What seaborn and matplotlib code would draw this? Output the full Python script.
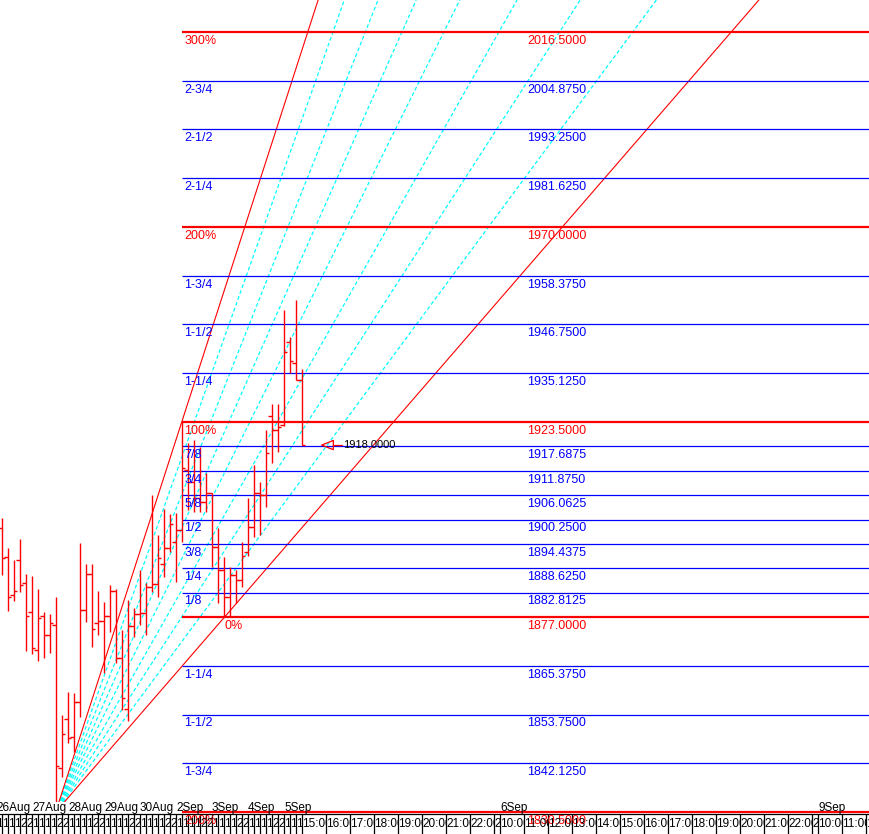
import matplotlib
matplotlib.use("Agg")
import matplotlib.pyplot as plt
import seaborn as sns
import pandas as pd
from matplotlib.transforms import Bbox, TransformedBbox

# 4 hour bars, 26Aug .. 5Sep
opens = [1898.2, 1891.4, 1882.3, 1890.6, 1885.0, 1878.1, 1869.1, 1877.2, 1872.7, 1875.1,
         1841.0, 1852.6, 1848.4, 1856.7, 1878.7, 1887.2, 1875.5, 1876.1, 1877.2, 1883.2,
         1867.2, 1855.0, 1874.9, 1877.7, 1878.0, 1884.2, 1884.9, 1889.6, 1893.5, 1894.9,
         1897.8, 1912.1, 1909.2, 1905.4, 1904.4, 1906.6, 1893.7, 1888.2, 1881.8, 1887.0,
         1885.8, 1892.5, 1898.5, 1906.6, 1906.1, 1924.9, 1921.6, 1922.8, 1942.6, 1937.6,
         1933.5]
highs = [1900.5, 1893.4, 1890.6, 1895.6, 1887.2, 1886.8, 1883.7, 1878.1, 1877.7, 1881.7,
         1853.6, 1859.1, 1858.9, 1894.6, 1889.6, 1889.6, 1883.2, 1880.7, 1884.6, 1883.7,
         1873.9, 1881.1, 1879.2, 1888.2, 1885.1, 1906.1, 1896.6, 1902.8, 1901.6, 1901.8,
         1923.5, 1918.5, 1919.2, 1917.5, 1911.3, 1906.6, 1898.2, 1891.3, 1888.9, 1888.2,
         1894.9, 1905.4, 1913.3, 1909.2, 1921.6, 1927.8, 1927.8, 1950.2, 1943.8, 1952.6,
         1936.1]
lows = [1887.0, 1878.4, 1880.9, 1883.0, 1869.0, 1868.1, 1866.6, 1867.2, 1868.5, 1830.5,
        1838.9, 1846.9, 1844.8, 1853.1, 1875.9, 1869.9, 1872.7, 1863.6, 1873.4, 1866.0,
        1854.8, 1852.2, 1872.2, 1875.1, 1872.7, 1883.0, 1881.8, 1886.5, 1892.5, 1885.4,
        1894.9, 1902.5, 1902.0, 1902.0, 1902.0, 1888.9, 1880.3, 1877.0, 1877.0, 1880.3,
        1884.2, 1891.6, 1896.1, 1896.6, 1903.2, 1913.7, 1916.4, 1922.6, 1935.2, 1933.5,
        1918.0]
closes = [1891.0, 1881.7, 1883.2, 1884.6, 1877.2, 1869.5, 1876.7, 1872.7, 1875.5, 1841.5,
          1849.1, 1848.1, 1856.7, 1878.7, 1887.2, 1874.1, 1876.1, 1877.2, 1883.2, 1867.2,
          1857.7, 1874.9, 1877.7, 1878.0, 1884.2, 1884.9, 1891.1, 1893.5, 1899.2, 1897.8,
          1912.5, 1909.2, 1905.4, 1904.4, 1906.6, 1893.7, 1888.2, 1881.8, 1887.0, 1885.8,
          1891.6, 1898.5, 1906.6, 1906.1, 1916.1, 1921.6, 1922.3, 1940.2, 1938.0, 1933.5,
          1918.0]

# gann levels
level_prices = [2016.5, 2004.875, 1993.25, 1981.625, 1970.0, 1958.375, 1946.75, 1935.125,
                1923.5, 1917.6875, 1911.875, 1906.0625, 1900.25, 1894.4375, 1888.625,
                1882.8125, 1877.0, 1865.375, 1853.75, 1842.125, 1830.5]
level_names = ["300%", "2-3/4", "2-1/2", "2-1/4", "200%", "1-3/4", "1-1/2", "1-1/4",
               "100%", "7/8", "3/4", "5/8", "1/2", "3/8", "1/4", "1/8", "0%",
               "1-1/4", "1-1/2", "1-3/4", "200%"]
level_major = [True, False, False, False, True, False, False, False,
               True, False, False, False, False, False, False, False, True,
               False, False, False, True]
level_start_bar = 30

# fan slopes (price per bar) from the swing low
fan_slopes = [4.427, 4.025, 3.604, 3.223, 2.875, 2.518, 2.215, 1.934, 1.652]

# time axis
day_names = ["26Aug", "27Aug", "28Aug", "29Aug", "30Aug", "2Sep", "3Sep", "4Sep", "5Sep"]
day_first_bar = [-1, 5, 11, 17, 23, 29, 35, 41, 47]
bar_hour_digits = ["1", "1", "1", "1", "2", "2"]
future_days = ["5Sep", "6Sep", "9Sep"]
future_hours = [[15, 16, 17, 18, 19, 20, 21, 22, 23],
                [10, 11, 12, 13, 14, 15, 16, 17, 18, 19, 20, 21, 22, 23],
                [10, 11, 12]]
last_price = 1918.0

RED = "#ff0000"
BLUE = "#0000ff"
CYAN = "#00ffff"

sns.set_theme(style="white")
plt.rcParams["font.family"] = ["Liberation Sans", "DejaVu Sans"]

W, H = 869, 834
fig = plt.figure(figsize=(W / 100, H / 100), dpi=100)
ax = fig.add_axes([0, 0, 1, 1])


# pixel <-> data helpers for the screen layout
def xpx(p):
    return (p - 1.7) / 6.0


def ypx(p):
    return 1923.5 - (p - 422) / 4.194


ax.set_xlim(xpx(0), xpx(W))
ax.set_ylim(ypx(H), ypx(0))
ax.axis("off")

bars = pd.DataFrame({"o": opens, "h": highs, "l": lows, "c": closes})
bars["x"] = range(len(bars))

# fan
x0 = bars["l"].idxmin()
p0 = bars["l"].min()
ytop = ypx(0)
rows = []
for i, s in enumerate(fan_slopes):
    rows.append({"ray": i, "x": x0, "p": p0})
    rows.append({"ray": i, "x": x0 + (ytop - p0) / s, "p": ytop})
fan = pd.DataFrame(rows)
inner = fan[(fan["ray"] > 0) & (fan["ray"] < len(fan_slopes) - 1)]
outer = fan[(fan["ray"] == 0) | (fan["ray"] == len(fan_slopes) - 1)]
sns.lineplot(data=inner, x="x", y="p", units="ray", estimator=None, sort=False,
             color=CYAN, lw=0.9, linestyle=(0, (3, 2)), legend=False, ax=ax, zorder=1)
sns.lineplot(data=outer, x="x", y="p", units="ray", estimator=None, sort=False,
             color=RED, lw=0.8, legend=False, ax=ax, zorder=1)

# levels
xmax = xpx(W)
for p, name, major in zip(level_prices, level_names, level_major):
    col = RED if major else BLUE
    ax.hlines(p, level_start_bar, xmax, colors=col, lw=1.6 if major else 0.9, zorder=2)
    lx = level_start_bar + 0.4
    if name == "0%":
        lx = x0 + (p - p0) / fan_slopes[-1]
    ax.annotate(name, (lx, p), xytext=(0, -8.5), textcoords="offset points",
                color=col, fontsize=9, va="baseline", ha="left", zorder=6)
    ax.annotate(f"{p:.4f}", (xpx(527), p), xytext=(0, -8.5), textcoords="offset points",
                color=col, fontsize=9, va="baseline", ha="left", zorder=6)

# ohlc bars
ax.vlines(bars["x"], bars["l"], bars["h"], colors=RED, lw=1.0, zorder=3)
ax.hlines(bars["o"], bars["x"] - 0.55, bars["x"], colors=RED, lw=1.0, zorder=3)
ax.hlines(bars["c"], bars["x"], bars["x"] + 0.55, colors=RED, lw=1.0, zorder=3)

# last price marker
xl = bars["x"].iloc[-1]
tip, base = xl + 3.33, xl + 5.27
dy = 4.6 / 4.194
ax.plot([base, tip, base, base], [last_price + dy, last_price, last_price - dy, last_price + dy],
        color=RED, lw=0.9, zorder=6)
ax.plot([base, xl + 6.67], [last_price, last_price], color=RED, lw=0.9, zorder=6)
ax.text(xl + 6.93, last_price, f"{last_price:.4f}", fontsize=8, color="black",
        va="center", ha="left", zorder=6)

# bottom time strip
strip_top = ypx(802)
ax.axhspan(ypx(H), strip_top, color="white", zorder=4, lw=0)
# redraw the -100% level over the strip
ax.hlines(level_prices[-1], level_start_bar, xmax, colors=RED, lw=1.6, zorder=5)
line_y = ypx(813.8)
ax.axhline(line_y, color="black", lw=0.9, zorder=5)

cells = []
for d, (name, start) in enumerate(zip(day_names, day_first_bar)):
    n = 6 if d < len(day_names) - 1 else 3
    for j in range(n):
        cells.append((start + j, 1, bar_hour_digits[j]))
    ax.text(start + 0.05, ypx(811), name, fontsize=8.5, color="black",
            va="baseline", ha="left", zorder=6)

pos = xl
for name, hours in zip(future_days, future_hours):
    if name != future_days[0]:
        ax.text(pos + 0.05, ypx(811), name, fontsize=8.5, color="black",
                va="baseline", ha="left", zorder=6)
    for hr in hours:
        w = 1 if hr == 23 else 4
        cells.append((pos, w, f"{hr}:00"))
        pos += w

for cx, cw, lab in cells:
    ax.vlines(cx, ypx(H), line_y, colors="black", lw=0.9, zorder=5)
    t = ax.text(cx + 0.12, ypx(826.5), lab, fontsize=8.5, color="black",
                va="baseline", ha="left", zorder=6)
    t.set_clip_box(TransformedBbox(Bbox([[cx, ypx(H)], [cx + cw, line_y]]), ax.transData))
    t.set_clip_on(True)

fig.savefig("out.png", dpi=100)
